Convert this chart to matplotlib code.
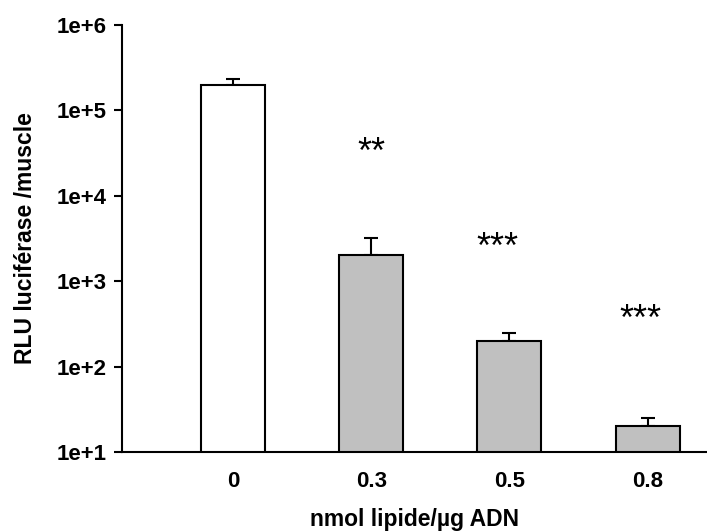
import numpy as np
import matplotlib
matplotlib.use("Agg")
import matplotlib.pyplot as plt
from matplotlib.ticker import FixedLocator, FixedFormatter, NullLocator

# luciferase expression vs lipid dose
doses = ["0", "0.3", "0.5", "0.8"]
rlu = [2.0e5, 2.0e3, 2.0e2, 2.0e1]
err_up = [3.5e4, 1.2e3, 5.0e1, 5.0]
colors = ["white", "#c0c0c0", "#c0c0c0", "#c0c0c0"]
stars = ["", "**", "***", "***"]
star_dx = [0, 0.0, -0.09, -0.05]
star_y = [None, 3.15e4, 2.4e3, 3.5e2]
yticks = [1e1, 1e2, 1e3, 1e4, 1e5, 1e6]
ytick_labels = ["1e+1", "1e+2", "1e+3", "1e+4", "1e+5", "1e+6"]

plt.rcParams['font.family'] = ['Liberation Sans', 'DejaVu Sans']

fig = plt.figure(figsize=(7.07, 5.31), dpi=100)
ax = fig.add_axes([0.1726, 0.1488, 0.8274, 0.8042])

x = np.arange(len(doses))
ax.bar(x, rlu, width=0.464, color=colors, edgecolor="black", linewidth=1.5, zorder=2)
ax.errorbar(x, rlu, yerr=[np.zeros(len(rlu)), err_up], fmt="none",
            ecolor="black", elinewidth=1.5, capsize=4.7, capthick=1.5, zorder=1)

for xi, s, dx, sy in zip(x, stars, star_dx, star_y):
    if s:
        ax.text(xi + dx, sy, s, ha="center", va="center", fontsize=26)

ax.set_yscale("log")
ax.set_ylim(1e1, 1e6)
ax.set_xlim(-0.804, 3.43)
ax.yaxis.set_major_locator(FixedLocator(yticks))
ax.yaxis.set_major_formatter(FixedFormatter(ytick_labels))
ax.yaxis.set_minor_locator(NullLocator())
ax.set_xticks(x)
ax.set_xticklabels(doses)

for lab in ax.get_xticklabels() + ax.get_yticklabels():
    lab.set_fontweight("bold")
    lab.set_fontsize(16)

ax.tick_params(axis="x", length=0, pad=14)
ax.tick_params(axis="y", length=6, width=1.5, direction="out", pad=5)
ax.spines["top"].set_visible(False)
ax.spines["right"].set_visible(False)
ax.spines["left"].set_linewidth(1.5)
ax.spines["bottom"].set_linewidth(1.5)

ax.set_xlabel("nmol lipide/µg ADN", fontsize=16.5, fontweight="bold", labelpad=11)
ax.set_ylabel("RLU luciférase /muscle", fontsize=16.5, fontweight="bold", labelpad=14)

fig.savefig("out.png", dpi=100)
